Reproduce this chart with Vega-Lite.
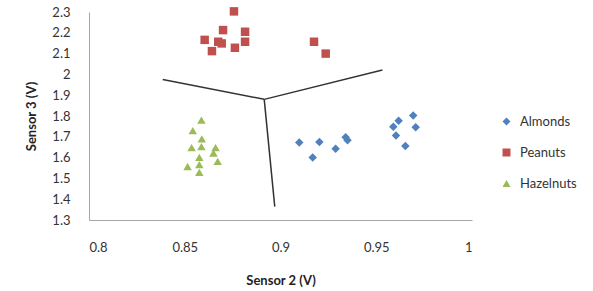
{
  "$schema": "https://vega.github.io/schema/vega-lite/v6.json",
  "autosize": "none",
  "width": 383,
  "height": 208,
  "padding": {"left": 89, "top": 12, "right": 121, "bottom": 71},
  "background": "white",
  "config": {
    "view": {"stroke": null},
    "font": "Lato",
    "axis": {"grid": false, "ticks": false, "labelOverlap": false, "domainColor": "#a6a6a6", "labelFont": "Lato", "labelFontSize": 13, "labelColor": "#333", "titleFont": "Lato", "titleFontSize": 13, "titleFontWeight": "bold", "titleColor": "#222"},
    "legend": {"labelFont": "Lato", "labelFontSize": 13, "labelColor": "#333"}
  },
  "datasets": {
    "pts": [
      {"s2": 0.9098, "s3": 1.673, "nut": "Almonds"},
      {"s2": 0.9168, "s3": 1.601, "nut": "Almonds"},
      {"s2": 0.9203, "s3": 1.675, "nut": "Almonds"},
      {"s2": 0.9288, "s3": 1.643, "nut": "Almonds"},
      {"s2": 0.934, "s3": 1.698, "nut": "Almonds"},
      {"s2": 0.935, "s3": 1.683, "nut": "Almonds"},
      {"s2": 0.9589, "s3": 1.748, "nut": "Almonds"},
      {"s2": 0.9617, "s3": 1.777, "nut": "Almonds"},
      {"s2": 0.9603, "s3": 1.706, "nut": "Almonds"},
      {"s2": 0.9693, "s3": 1.802, "nut": "Almonds"},
      {"s2": 0.9706, "s3": 1.746, "nut": "Almonds"},
      {"s2": 0.9652, "s3": 1.656, "nut": "Almonds"},
      {"s2": 0.8757, "s3": 2.303, "nut": "Peanuts"},
      {"s2": 0.870, "s3": 2.213, "nut": "Peanuts"},
      {"s2": 0.8604, "s3": 2.166, "nut": "Peanuts"},
      {"s2": 0.8675, "s3": 2.157, "nut": "Peanuts"},
      {"s2": 0.8693, "s3": 2.149, "nut": "Peanuts"},
      {"s2": 0.8642, "s3": 2.112, "nut": "Peanuts"},
      {"s2": 0.8762, "s3": 2.128, "nut": "Peanuts"},
      {"s2": 0.8815, "s3": 2.205, "nut": "Peanuts"},
      {"s2": 0.8815, "s3": 2.157, "nut": "Peanuts"},
      {"s2": 0.9175, "s3": 2.157, "nut": "Peanuts"},
      {"s2": 0.9236, "s3": 2.100, "nut": "Peanuts"},
      {"s2": 0.8587, "s3": 1.780, "nut": "Hazelnuts"},
      {"s2": 0.8542, "s3": 1.730, "nut": "Hazelnuts"},
      {"s2": 0.8589, "s3": 1.690, "nut": "Hazelnuts"},
      {"s2": 0.8536, "s3": 1.648, "nut": "Hazelnuts"},
      {"s2": 0.8587, "s3": 1.653, "nut": "Hazelnuts"},
      {"s2": 0.8661, "s3": 1.648, "nut": "Hazelnuts"},
      {"s2": 0.8650, "s3": 1.622, "nut": "Hazelnuts"},
      {"s2": 0.8576, "s3": 1.601, "nut": "Hazelnuts"},
      {"s2": 0.8672, "s3": 1.582, "nut": "Hazelnuts"},
      {"s2": 0.8515, "s3": 1.557, "nut": "Hazelnuts"},
      {"s2": 0.8576, "s3": 1.566, "nut": "Hazelnuts"},
      {"s2": 0.8576, "s3": 1.529, "nut": "Hazelnuts"}
    ],
    "bounds": [
      {"xa": 0.8385, "ya": 1.976, "xb": 0.8915, "yb": 1.880},
      {"xa": 0.8915, "ya": 1.880, "xb": 0.9532, "yb": 2.021},
      {"xa": 0.8915, "ya": 1.880, "xb": 0.8970, "yb": 1.364}
    ]
  },
  "layer": [
    {
      "data": {"name": "bounds"},
      "mark": {"type": "rule", "color": "#333333", "strokeWidth": 1.5},
      "encoding": {
        "x": {"field": "xa", "type": "quantitative", "scale": {"domain": [0.8, 1.0], "nice": false, "zero": false},
              "axis": {"values": [0.8, 0.85, 0.9, 0.95, 1.0], "format": "~g", "labelOverlap": false, "labelPadding": 21, "title": "Sensor 2 (V)", "titlePadding": 20}},
        "y": {"field": "ya", "type": "quantitative", "scale": {"domain": [1.3, 2.3], "nice": false, "zero": false},
              "axis": {"values": [1.3, 1.4, 1.5, 1.6, 1.7, 1.8, 1.9, 2.0, 2.1, 2.2, 2.3], "format": "~g", "labelOverlap": false, "labelPadding": 19, "title": "Sensor 3 (V)", "titlePadding": 13}},
        "x2": {"field": "xb"},
        "y2": {"field": "yb"}
      }
    },
    {
      "data": {"name": "pts"},
      "mark": {"type": "point", "filled": true, "opacity": 1},
      "encoding": {
        "x": {"field": "s2", "type": "quantitative", "axis": {"values": [0.8, 0.85, 0.9, 0.95, 1.0], "format": "~g", "labelOverlap": false, "labelPadding": 21, "title": "Sensor 2 (V)", "titlePadding": 20}},
        "y": {"field": "s3", "type": "quantitative", "axis": {"values": [1.3, 1.4, 1.5, 1.6, 1.7, 1.8, 1.9, 2.0, 2.1, 2.2, 2.3], "format": "~g", "labelOverlap": false, "labelPadding": 19, "title": "Sensor 3 (V)", "titlePadding": 13}},
        "color": {"field": "nut", "type": "nominal", "scale": {"domain": ["Almonds", "Peanuts", "Hazelnuts"], "range": ["#4F81BD", "#C0504D", "#9BBB59"]},
                  "legend": {"title": null, "orient": "none", "legendX": 411, "legendY": 103, "rowPadding": 17, "symbolSize": 64, "labelOffset": 7}},
        "shape": {"field": "nut", "type": "nominal", "scale": {"domain": ["Almonds", "Peanuts", "Hazelnuts"], "range": ["diamond", "square", "triangle-up"]}},
        "size": {"value": 72}
      }
    }
  ]
}
